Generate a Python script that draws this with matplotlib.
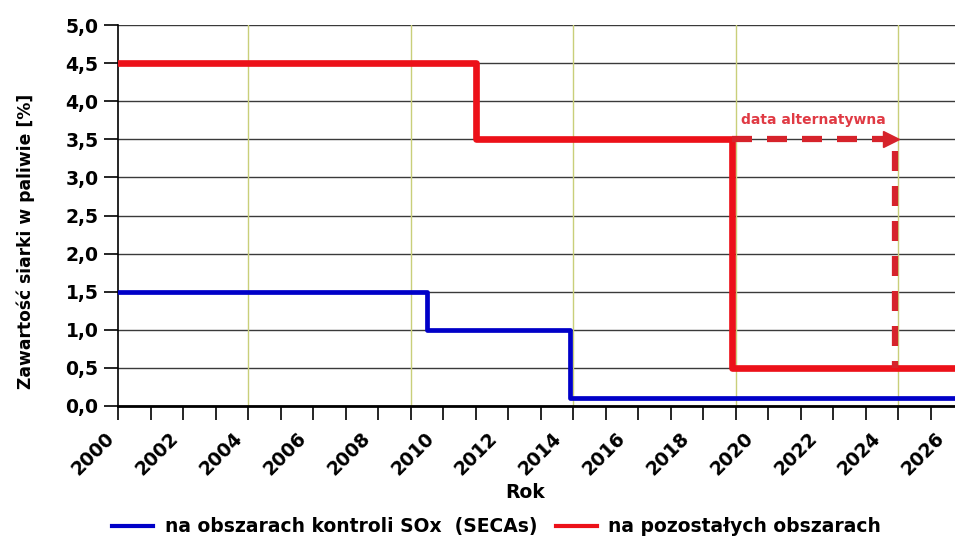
import numpy as np
import matplotlib
matplotlib.use('Agg')
import matplotlib.pyplot as plt
import matplotlib.transforms as mtransforms

plt.rcParams['font.family'] = ['DejaVu Sans']
plt.rcParams['font.weight'] = 'bold'

# data (x in the chart's own year scale)
blue_x = [2000, 2009.5, 2013.9, 2025.75]
blue_y = [1.5, 1.0, 0.1, 0.1]
red_x = [2000, 2011.0, 2018.9, 2025.75]
red_y = [4.5, 3.5, 0.5, 0.5]
alt_x = [2018.9, 2023.9, 2023.9]
alt_y = [3.5, 3.5, 0.5]

y_ticks = [0.0, 0.5, 1.0, 1.5, 2.0, 2.5, 3.0, 3.5, 4.0, 4.5, 5.0]
y_labels = ['0,0', '0,5', '1,0', '1,5', '2,0', '2,5', '3,0', '3,5', '4,0', '4,5', '5,0']
x_labels = ['2000', '2002', '2004', '2006', '2008', '2010', '2012', '2014',
            '2016', '2018', '2020', '2022', '2024', '2026']
vgrid = [2004, 2009, 2014, 2019, 2024]

blue = '#0000c8'
red = '#ec1119'
red_dash = '#d6232b'

fig = plt.figure(figsize=(9.55, 5.42), dpi=100)
ax = fig.add_axes([118 / 955, 1 - 406 / 542, 837 / 955, 381 / 542])

# grid
for yv in y_ticks:
    ax.axhline(yv, color='#3a3a3a', lw=1.0, zorder=1)
for xv in vgrid:
    ax.axvline(xv, color='#c9cf7a', lw=1.0, zorder=1)

ax.step(blue_x, blue_y, where='post', color=blue, lw=3.4, zorder=3,
        label='na obszarach kontroli SOx  (SECAs)')
ax.step(red_x, red_y, where='post', color=red, lw=4.8, zorder=3,
        label='na pozostałych obszarach')
ax.plot(alt_x, alt_y, color=red_dash, lw=4.5, ls=(0, (3.2, 2.4)), zorder=4)
ax.plot([alt_x[1] - 0.12], [alt_y[0]], marker='>', ms=11, color=red_dash,
        mec=red_dash, zorder=5)
ax.text((alt_x[0] + alt_x[1]) / 2, 3.75, 'data alternatywna', color='#e03a44',
        fontsize=10, fontweight='bold', ha='center', va='center')

for s in ['top', 'right']:
    ax.spines[s].set_visible(False)
ax.spines['left'].set_linewidth(1.2)
ax.spines['bottom'].set_linewidth(2.0)

ax.set_yticks(y_ticks, y_labels)
ax.tick_params(axis='y', length=10, width=1.2, pad=4, labelsize=13.5)

ax.set_xticks(np.arange(2000, 2026), labels=[])
ax.tick_params(axis='x', which='major', length=10, width=1.2, direction='out')

ax.set_xlim(2000, 2025.75)
ax.set_ylim(0, 5)

# year labels: in the original they drift slightly against the yearly ticks
label_pos = 2000 + np.arange(len(x_labels)) * 1.9645
shift = mtransforms.ScaledTranslation(-9.5 / 72, -16 / 72, fig.dpi_scale_trans)
for xp, lab in zip(label_pos, x_labels):
    ax.text(xp, 0, lab, transform=ax.get_xaxis_transform() + shift,
            rotation=45, ha='right', va='top', rotation_mode='anchor',
            fontsize=13.5, fontweight='bold', clip_on=False)

ax.set_xlabel('Rok', fontsize=13.5, fontweight='bold', va='center')
ax.xaxis.set_label_coords(0.486, -0.228)
ax.set_ylabel('Zawartość siarki w paliwie [%]', fontsize=12.3, fontweight='bold',
              va='center')
ax.yaxis.set_label_coords(-0.11, 0.433)

h, l = ax.get_legend_handles_labels()
leg = fig.legend(h, l, loc='center', bbox_to_anchor=(0.52, 0.028), ncol=2,
                 frameon=False, fontsize=13.5, handlelength=2.2,
                 columnspacing=1.0, handletextpad=0.6)
for ln in leg.get_lines():
    ln.set_linewidth(3.0)

fig.savefig('out.png', dpi=100)
